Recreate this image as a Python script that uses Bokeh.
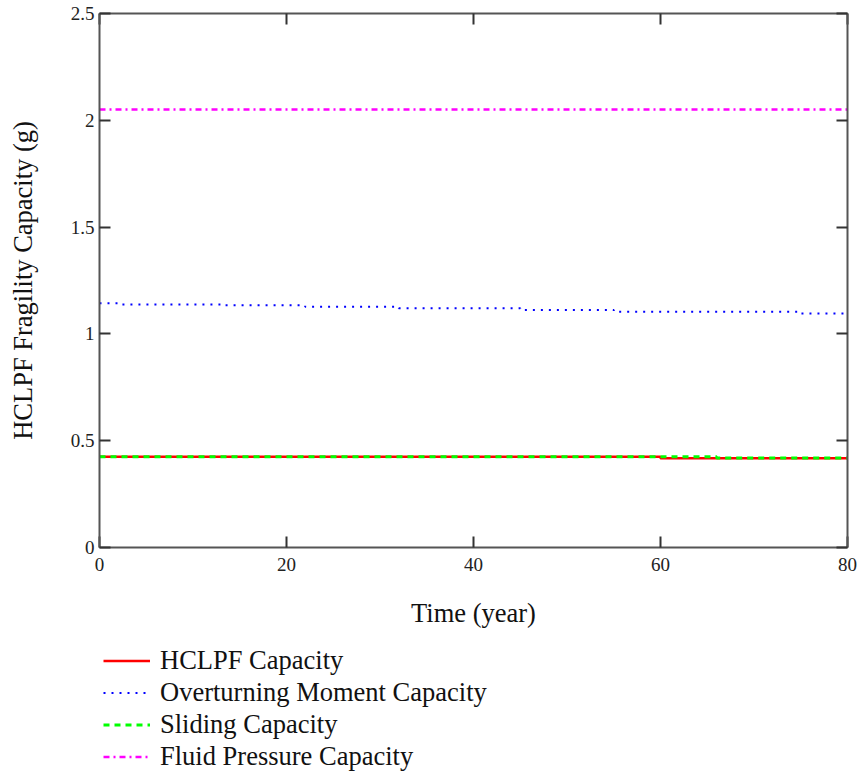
from bokeh.plotting import figure
from bokeh.layouts import column
from bokeh.models import LinearAxis, Legend, LegendItem, Range1d, FixedTicker
from bokeh.embed import file_html
from bokeh.resources import INLINE

# Capacity histories over the service life (years, g)
hclpf_years = [0, 60, 80]
hclpf_cap = [0.425, 0.418, 0.418]

overturn_years = [0, 2, 13, 22, 32, 45, 55, 75, 80]
overturn_cap = [1.143, 1.138, 1.134, 1.127, 1.120, 1.112, 1.104, 1.096, 1.096]

sliding_years = [0, 66, 80]
sliding_cap = [0.425, 0.419, 0.419]

fluid_years = [0, 80]
fluid_cap = [2.05, 2.05]

x_ticks = [0, 20, 40, 60, 80]
y_ticks = [0, 0.5, 1, 1.5, 2, 2.5]

series_labels = ["HCLPF Capacity", "Overturning Moment Capacity",
                 "Sliding Capacity", "Fluid Pressure Capacity"]

FONT = "Liberation Serif"
AXIS_COL = "#555555"

series = [
    (hclpf_years, hclpf_cap, dict(line_color="#ff0000", line_width=2.5)),
    (overturn_years, overturn_cap,
     dict(line_color="#0000ff", line_width=2, line_dash="2 6")),
    (sliding_years, sliding_cap,
     dict(line_color="#00ff00", line_width=3, line_dash="6 5")),
    (fluid_years, fluid_cap,
     dict(line_color="#ff00ff", line_width=2.5, line_dash="6 4 2 4")),
]

p = figure(width=862, height=640, output_backend="svg", toolbar_location=None,
           x_range=Range1d(0, 80), y_range=Range1d(0, 2.5),
           min_border_left=99, min_border_right=15, min_border_top=13,
           min_border_bottom=93, x_axis_location=None, y_axis_location=None)
p.outline_line_color = None
p.xgrid.visible = False
p.ygrid.visible = False
p.background_fill_color = "white"
p.border_fill_color = "white"


def style_axis(ax, labels=True):
    ax.axis_line_color = AXIS_COL
    ax.axis_line_width = 2
    ax.major_tick_line_color = "#333333"
    ax.major_tick_line_width = 2
    ax.major_tick_in = 11
    ax.major_tick_out = 0
    ax.minor_tick_line_color = None
    ax.major_label_text_font = FONT
    ax.major_label_text_font_size = "19px"
    ax.major_label_text_color = "#222222"
    ax.axis_label_text_font = FONT
    ax.axis_label_text_font_size = "26.5px"
    ax.axis_label_text_font_style = "normal"
    ax.axis_label_text_color = "#111111"
    if not labels:
        ax.major_label_text_font_size = "0px"
        ax.major_label_text_color = None


xb = LinearAxis(ticker=FixedTicker(ticks=x_ticks), axis_label="Time (year)")
style_axis(xb)
xb.major_label_standoff = 10
xb.axis_label_standoff = 24
p.add_layout(xb, "below")

xt = LinearAxis(ticker=FixedTicker(ticks=x_ticks))
style_axis(xt, labels=False)
p.add_layout(xt, "above")

yl = LinearAxis(ticker=FixedTicker(ticks=y_ticks),
                axis_label="HCLPF Fragility Capacity (g)")
style_axis(yl)
yl.major_label_standoff = 5
yl.axis_label_standoff = 30
p.add_layout(yl, "left")

yr = LinearAxis(ticker=FixedTicker(ticks=y_ticks))
style_axis(yr, labels=False)
p.add_layout(yr, "right")

for xs, ys, st in series:
    p.step(xs, ys, mode="after", **st)

# Legend strip below the chart; its key renderers carry the same series
# and styles but stay hidden, only their legend keys are shown.
key = figure(width=862, height=133, output_backend="svg", toolbar_location=None,
             x_range=Range1d(0, 80), y_range=Range1d(0, 2.5),
             min_border=0, x_axis_location=None, y_axis_location=None)
key.outline_line_color = None
key.xgrid.visible = False
key.ygrid.visible = False
key.border_fill_color = "white"

items = []
for lab, (xs, ys, st) in zip(series_labels, series):
    r = key.step(xs, ys, mode="after", visible=False, **st)
    items.append(LegendItem(label=lab, renderers=[r]))

legend = Legend(items=items, location=(4, 1))
legend.border_line_color = None
legend.background_fill_alpha = 0
legend.inactive_fill_alpha = 0
legend.padding = 0
legend.margin = 0
legend.spacing = 1
legend.glyph_width = 47
legend.glyph_height = 27
legend.label_height = 27
legend.label_standoff = 10
legend.label_text_font = FONT
legend.label_text_font_size = "26.5px"
legend.label_text_color = "#111111"
key.add_layout(legend, "center")

page = column(p, key, spacing=0)
open("out.html", "w").write(file_html(page, INLINE))
